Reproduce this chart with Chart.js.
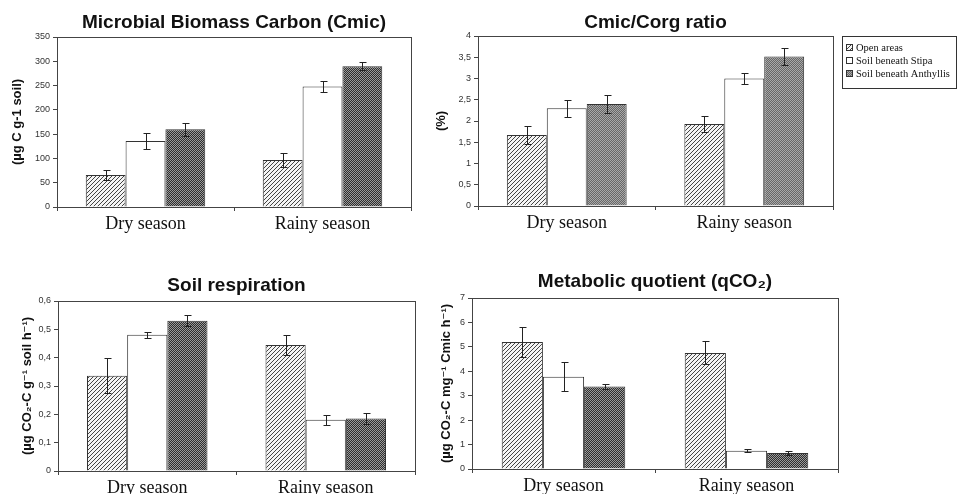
<!DOCTYPE html>
<html>
<head>
<meta charset="utf-8">
<script src="https://cdn.jsdelivr.net/npm/chart.js@4.4.0/dist/chart.umd.min.js"></script>
<style>
  body { margin: 0; background: #fff; }
  #wrap { position: relative; width: 957px; height: 494px; overflow: hidden; }
  .box { position: absolute; }
</style>
</head>
<body>
<div id="wrap">
  <div class="box" style="left:0;top:0;width:420px;height:250px"><canvas id="c1"></canvas></div>
  <div class="box" style="left:420px;top:0;width:537px;height:250px"><canvas id="c2"></canvas></div>
  <div class="box" style="left:0;top:250px;width:420px;height:244px"><canvas id="c3"></canvas></div>
  <div class="box" style="left:420px;top:250px;width:537px;height:244px"><canvas id="c4"></canvas></div>
</div>
<script>
var seasons = ['Dry season', 'Rainy season'];
var groups = ['Open areas', 'Soil beneath Stipa', 'Soil beneath Anthyllis'];

// Microbial biomass carbon (µg C g-1 soil)
var cmicOpen = [66, 97];
var cmicStipa = [136, 248];
var cmicAnth = [160, 290];
var cmicOpenErr = [10, 14];
var cmicStipaErr = [17, 11];
var cmicAnthErr = [13, 8];

// Cmic/Corg ratio (%)
var ratioOpen = [1.67, 1.93];
var ratioStipa = [2.3, 3.0];
var ratioAnth = [2.4, 3.52];
var ratioOpenErr = [0.22, 0.18];
var ratioStipaErr = [0.2, 0.12];
var ratioAnthErr = [0.22, 0.2];

// Soil respiration
var respOpen = [0.336, 0.445];
var respStipa = [0.481, 0.181];
var respAnth = [0.53, 0.185];
var respOpenErr = [0.062, 0.035];
var respStipaErr = [0.01, 0.017];
var respAnthErr = [0.02, 0.02];

// Metabolic quotient
var qOpen = [5.2, 4.75];
var qStipa = [3.78, 0.75];
var qAnth = [3.38, 0.66];
var qOpenErr = [0.62, 0.47];
var qStipaErr = [0.6, 0.06];
var qAnthErr = [0.12, 0.07];

function hatch() {
    var c = document.createElement('canvas');
    c.width = 4; c.height = 4;
    var g = c.getContext('2d');
    g.fillStyle = '#f4f4f4';
    g.fillRect(0, 0, 4, 4);
    g.fillStyle = '#444';
    for (var i = 0; i < 4; i++) g.fillRect(i, 3 - i, 1, 1);
    return g.createPattern(c, 'repeat');
}

function checker(dark, light) {
    var c = document.createElement('canvas');
    c.width = 2; c.height = 2;
    var g = c.getContext('2d');
    g.fillStyle = dark;
    g.fillRect(0, 0, 2, 2);
    g.fillStyle = light;
    g.fillRect(0, 0, 1, 1);
    g.fillRect(1, 1, 1, 1);
    return g.createPattern(c, 'repeat');
}

var errorBars = {
    id: 'errorBars',
    afterDatasetsDraw: function(chart) {
        var ctx = chart.ctx;
        var y = chart.scales.y;
        ctx.save();
        ctx.strokeStyle = '#222';
        ctx.lineWidth = 1;
        chart.data.datasets.forEach(function(ds, i) {
            var meta = chart.getDatasetMeta(i);
            meta.data.forEach(function(bar, j) {
                var v = ds.data[j], e = ds.err[j];
                var x = Math.round(bar.x) + 0.5;
                var t = Math.round(y.getPixelForValue(v + e)) + 0.5;
                var b = Math.round(y.getPixelForValue(v - e)) + 0.5;
                ctx.beginPath();
                ctx.moveTo(x, t); ctx.lineTo(x, b);
                ctx.moveTo(x - 3, t); ctx.lineTo(x + 4, t);
                ctx.moveTo(x - 3, b); ctx.lineTo(x + 4, b);
                ctx.stroke();
            });
        });
        ctx.restore();
    }
};

var frame = {
    id: 'frame',
    afterDraw: function(chart) {
        var a = chart.chartArea, ctx = chart.ctx;
        ctx.save();
        ctx.strokeStyle = '#444';
        ctx.lineWidth = 1;
        ctx.strokeRect(Math.round(a.left) + 0.5, Math.round(a.top) + 0.5,
            Math.round(a.right - a.left), Math.round(a.bottom - a.top));
        ctx.restore();
    }
};

var boxLegend = {
    id: 'boxLegend',
    afterDraw: function(chart) {
        var ctx = chart.ctx, a = chart.chartArea;
        var x0 = Math.round(a.right) + 9, y0 = 36;
        ctx.save();
        ctx.strokeStyle = '#333';
        ctx.lineWidth = 1;
        ctx.strokeRect(x0 + 0.5, y0 + 0.5, 114, 52);
        ctx.font = '10.5px "Liberation Serif", "Times New Roman", serif';
        ctx.textBaseline = 'middle';
        ctx.fillStyle = '#111';
        chart.data.datasets.forEach(function(ds, i) {
            var yy = y0 + 12 + i * 13;
            ctx.fillStyle = ds.backgroundColor;
            ctx.fillRect(x0 + 4, yy - 4, 7, 7);
            ctx.strokeRect(x0 + 4.5, yy - 3.5, 6, 6);
            ctx.fillStyle = '#111';
            ctx.fillText(ds.label, x0 + 14, yy);
        });
        ctx.restore();
    }
};

function makeChart(id, cfg) {
    var datasets = [
        { label: groups[0], data: cfg.vals[0], err: cfg.errs[0], backgroundColor: hatch() },
        { label: groups[1], data: cfg.vals[1], err: cfg.errs[1], backgroundColor: '#ffffff' },
        { label: groups[2], data: cfg.vals[2], err: cfg.errs[2], backgroundColor: cfg.anthFill }
    ];
    datasets.forEach(function(d) {
        d.borderColor = '#333';
        d.borderWidth = 1;
        d.barPercentage = 1;
        d.categoryPercentage = 0.675;
    });
    return new Chart(document.getElementById(id), {
        type: 'bar',
        data: { labels: seasons, datasets: datasets },
        plugins: cfg.plugins,
        options: {
            responsive: true,
            maintainAspectRatio: false,
            animation: false,
            layout: { padding: { left: 0, right: cfg.padRight, top: 0, bottom: 0 } },
            plugins: {
                legend: { display: false },
                tooltip: { enabled: false },
                title: {
                    display: true,
                    text: cfg.title,
                    fullSize: false,
                    color: '#111',
                    font: { family: '"Liberation Sans", Arial, sans-serif', size: 19, weight: 'bold', lineHeight: 1 },
                    padding: { top: cfg.titleTop, bottom: cfg.titleBottom }
                }
            },
            scales: {
                x: {
                    grid: { offset: true, drawOnChartArea: false, tickLength: 4, color: '#444' },
                    border: { color: '#444' },
                    ticks: {
                        color: '#111',
                        padding: 2,
                        font: { family: '"Liberation Serif", "Times New Roman", serif', size: 18 }
                    },
                    afterFit: function(s) { s.height = cfg.xHeight; }
                },
                y: {
                    min: 0,
                    max: cfg.max,
                    grid: { drawOnChartArea: false, tickLength: 4, color: '#444' },
                    border: { color: '#444' },
                    ticks: {
                        stepSize: cfg.step,
                        color: '#333',
                        padding: 3,
                        font: { family: '"Liberation Sans", Arial, sans-serif', size: 9 },
                        callback: function(v) { return String(+v.toFixed(2)).replace('.', ','); }
                    },
                    title: {
                        display: true,
                        text: cfg.yTitle,
                        color: '#111',
                        padding: { top: cfg.yTitlePad, bottom: 0 },
                        font: { family: '"Liberation Sans", "DejaVu Sans", Arial, sans-serif', size: 13, weight: 'bold', lineHeight: 1.2 }
                    },
                    afterFit: function(s) { s.width = cfg.yWidth; }
                }
            }
        }
    });
}

var darkCheck = checker('#2e2e2e', '#9a9a9a');

makeChart('c1', {
    title: 'Microbial Biomass Carbon (Cmic)',
    yTitle: '(µg C g-1 soil)',
    vals: [cmicOpen, cmicStipa, cmicAnth],
    errs: [cmicOpenErr, cmicStipaErr, cmicAnthErr],
    anthFill: darkCheck,
    max: 350, step: 50,
    padRight: 9, yWidth: 57, xHeight: 43,
    titleTop: 13, titleBottom: 5, yTitlePad: 10,
    plugins: [errorBars, frame]
});

makeChart('c2', {
    title: 'Cmic/Corg ratio',
    yTitle: '(%)',
    vals: [ratioOpen, ratioStipa, ratioAnth],
    errs: [ratioOpenErr, ratioStipaErr, ratioAnthErr],
    anthFill: checker('#666', '#a8a8a8'),
    max: 4, step: 0.5,
    padRight: 124, yWidth: 58, xHeight: 44,
    titleTop: 13, titleBottom: 4, yTitlePad: 14,
    plugins: [errorBars, frame, boxLegend]
});

makeChart('c3', {
    title: 'Soil respiration',
    yTitle: '(µg CO₂-C g⁻¹ soil h⁻¹)',
    vals: [respOpen, respStipa, respAnth],
    errs: [respOpenErr, respStipaErr, respAnthErr],
    anthFill: darkCheck,
    max: 0.6, step: 0.1,
    padRight: 5, yWidth: 58, xHeight: 23,
    titleTop: 26, titleBottom: 6, yTitlePad: 20,
    plugins: [errorBars, frame]
});

makeChart('c4', {
    title: 'Metabolic quotient (qCO₂)',
    yTitle: '(µg CO₂-C mg⁻¹ Cmic h⁻¹)',
    vals: [qOpen, qStipa, qAnth],
    errs: [qOpenErr, qStipaErr, qAnthErr],
    anthFill: darkCheck,
    max: 7, step: 1,
    padRight: 119, yWidth: 52, xHeight: 25,
    titleTop: 22, titleBottom: 7, yTitlePad: 19,
    plugins: [errorBars, frame]
});
</script>
</body>
</html>
